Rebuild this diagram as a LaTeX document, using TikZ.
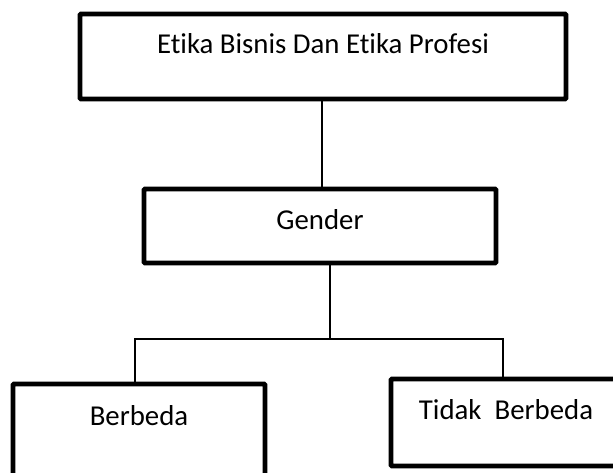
\documentclass[tikz,border=0pt]{standalone}
\usepackage{fontspec}
\setmainfont{Carlito}[Ligatures={NoCommon,NoRequired,NoContextual}]
\usetikzlibrary{fit}
\begin{document}
\begin{tikzpicture}[x=1pt,y=-1pt,
  box/.style={draw=black, line width=4.8pt, rectangle, inner sep=0pt, rounded corners=1pt},
  conn/.style={draw=black, line width=1.3pt},
  lbl/.style={anchor=base, inner sep=0pt, font=\fontsize{28.8}{34}\selectfont}]
\useasboundingbox (0,0) rectangle (613,472);
\fill[white] (0,0) rectangle (613,472);
\begin{scope}
\clip (0,0) rectangle (613,472);
\node[box, fit={(80,14) (566,99)}] (top) {};
\node[box, fit={(144,189) (496,263)}] (gender) {};
\node[box, fit={(13,384) (265,500)}] (left) {};
\node[box, fit={(391,379) (640,466)}] (right) {};
\end{scope}
\node[lbl] (ttop) at (323,53) {Etika Bisnis Dan Etika Profesi};
\node[lbl] (tgender) at (320,229) {Gender};
\node[lbl] (tleft) at (139,425) {Berbeda};
\node[lbl] (tright) at (506,419) {Tidak\ \ Berbeda};
\coordinate (j) at (330,339);
\coordinate (jl) at (135,339);
\coordinate (jr) at (503,339);
\draw[conn] (top.south -| 322,0) -- (gender.north -| 322,0);
\draw[conn] (gender.south -| j) -- (j);
\draw[conn] (left.north -| jl) -- (jl) -- (jr) -- (right.north -| jr);
\end{tikzpicture}
\end{document}
